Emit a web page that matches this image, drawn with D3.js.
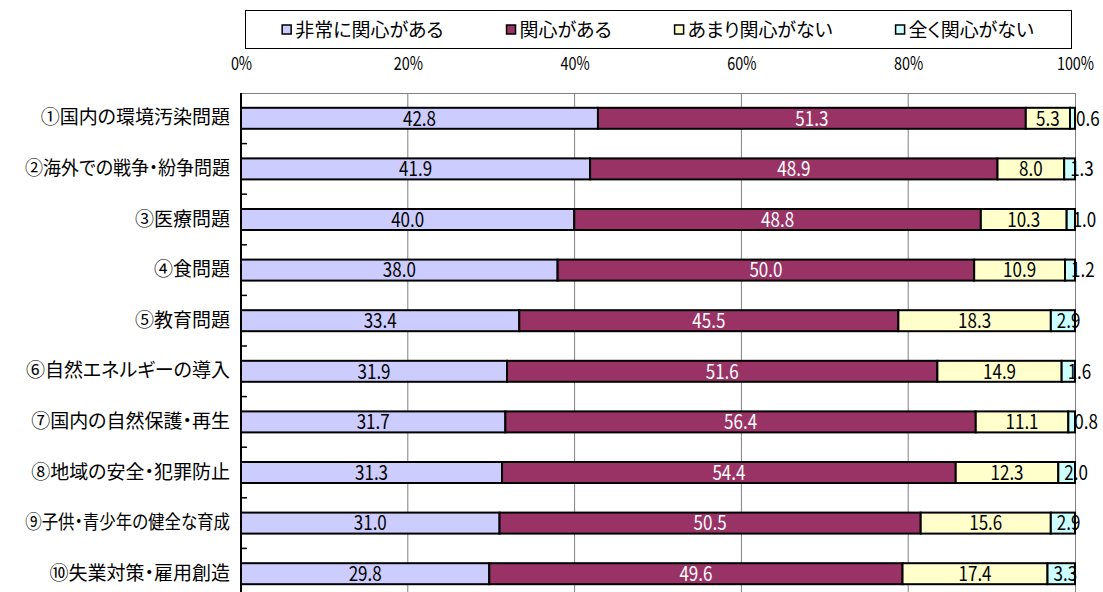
<!DOCTYPE html>
<html><head><meta charset="utf-8">
<script src="https://cdn.jsdelivr.net/npm/d3@7"></script>
<style>
html,body{margin:0;padding:0;background:#fff;}
svg{display:block;}
text{font-family:"Noto Sans CJK JP","Noto Sans",sans-serif;font-feature-settings:"palt" 1;}
</style></head>
<body>
<svg id="chart" width="1103" height="592"></svg>
<script>
const categories = ["①国内の環境汚染問題","②海外での戦争・紛争問題","③医療問題","④食問題","⑤教育問題","⑥自然エネルギーの導入","⑦国内の自然保護・再生","⑧地域の安全・犯罪防止","⑨子供・青少年の健全な育成","⑩失業対策・雇用創造"];
const seriesNames = ["非常に関心がある","関心がある","あまり関心がない","全く関心がない"];
const veryInterested = [42.8,41.9,40.0,38.0,33.4,31.9,31.7,31.3,31.0,29.8];
const interested     = [51.3,48.9,48.8,50.0,45.5,51.6,56.4,54.4,50.5,49.6];
const notMuch        = [5.3,8.0,10.3,10.9,18.3,14.9,11.1,12.3,15.6,17.4];
const notAtAll       = [0.6,1.3,1.0,1.2,2.9,1.6,0.8,2.0,2.9,3.3];
const tickValues = [0,0.2,0.4,0.6,0.8,1.0];
const colors = ["#CCCCFF","#993366","#FFFFCC","#CCFFFF"];
const labelColors = ["#000","#fff","#000","#000"];

(function(){
const svg = d3.select("#chart");
const pL = 241, pR = 1075, pT = 93, step = 50.6;
const pB = pT + step*categories.length;

const rows = categories.map((c,i)=>({cat:c, s0:veryInterested[i], s1:interested[i], s2:notMuch[i], s3:notAtAll[i]}));
const keys = ["s0","s1","s2","s3"];
const stack = d3.stack().keys(keys).offset(d3.stackOffsetExpand)(rows);

const x = d3.scaleLinear().domain([0,1]).range([pL,pR]);
const y = d3.scaleBand().domain(categories).range([pT,pB]).padding(0);
const barH = 21;

// gridlines
svg.append("g").selectAll("line").data(tickValues.filter(v=>v>0&&v<1)).join("line")
  .attr("x1",d=>x(d)).attr("x2",d=>x(d)).attr("y1",pT).attr("y2",pB)
  .attr("stroke","#808080").attr("stroke-width",1);
// plot border top/right
svg.append("line").attr("x1",pL).attr("x2",pR).attr("y1",pT+0.5).attr("y2",pT+0.5).attr("stroke","#808080");
svg.append("line").attr("x1",pR+0.5).attr("x2",pR+0.5).attr("y1",pT).attr("y2",pB).attr("stroke","#808080");

// top axis labels
const xAxis = d3.axisTop(x).tickValues(tickValues).tickFormat(d=>Math.round(d*100)+"%").tickSize(0).tickPadding(0);
const gx = svg.append("g").attr("transform",`translate(0,70)`).call(xAxis);
gx.select(".domain").remove();
gx.selectAll("text").attr("font-size",18).attr("fill","#000")
  .attr("font-family",'"Noto Sans CJK JP",sans-serif').attr("transform","scale(0.8,1)");

// bars
const layers = svg.append("g").selectAll("g").data(stack).join("g").attr("fill",(d,i)=>colors[i]);
layers.selectAll("rect").data(d=>d).join("rect")
  .attr("x",d=>x(d[0])).attr("width",d=>x(d[1])-x(d[0]))
  .attr("y",d=>y(d.data.cat)+(step-barH)/2).attr("height",barH)
  .attr("stroke","#000").attr("stroke-width",2);

// left axis
const pad = 11, maxW = 205;
const yAxis = d3.axisLeft(y).tickSize(0).tickPadding(pad);
const gy = svg.append("g").attr("transform",`translate(${pL},0)`).call(yAxis);
gy.select(".domain").remove();
gy.selectAll("text").attr("font-size",19).attr("fill","#000").attr("font-family",'"Noto Sans CJK JP",sans-serif')
  .each(function(){
    const w = this.getBBox().width;
    const s = Math.min(1, maxW / w);
    d3.select(this).attr("x",0).attr("transform",`translate(${-pad},0) scale(${s},1)`);
  });
svg.append("line").attr("x1",pL).attr("x2",pL).attr("y1",pT).attr("y2",592).attr("stroke","#000").attr("stroke-width",2);
svg.append("g").selectAll("line").data(categories.slice(1)).join("line")
  .attr("x1",pL).attr("x2",pL+6).attr("y1",d=>y(d)).attr("y2",d=>y(d))
  .attr("stroke","#000").attr("stroke-width",1.5);

// value labels
const vals = [veryInterested,interested,notMuch,notAtAll];
const sx = 0.85;
stack.forEach((layer,si)=>{
  svg.append("g").selectAll("text").data(layer).join("text")
    .attr("transform",d=>{
      const px = si<3 ? (x(d[0])+x(d[1]))/2 : x(d[0])+6;
      return `translate(${px},${y(d.data.cat)+step/2}) scale(${sx},1)`;
    })
    .attr("dy","0.36em")
    .attr("text-anchor", si<3 ? "middle" : "start")
    .attr("font-size",20).attr("fill",labelColors[si])
    .text((d,i)=>vals[si][i].toFixed(1));
});

// legend
const lg = svg.append("g");
lg.append("rect").attr("x",245.5).attr("y",10.5).attr("width",826).attr("height",38).attr("fill","#fff").attr("stroke","#000").attr("stroke-width",1);
const items = lg.selectAll("g.item").data(seriesNames).join("g").attr("class","item");
items.append("rect").attr("width",9).attr("height",9).attr("y",25).attr("fill",(d,i)=>colors[i]).attr("stroke","#000").attr("stroke-width",1.5);
items.append("text").attr("x",13).attr("y",30).attr("dy","0.36em").attr("font-size",19).text(d=>d);
let widths = [];
items.each(function(){ widths.push(this.getBBox().width); });
const gap = 63;
const total = d3.sum(widths) + gap*(widths.length-1);
let cx = 245 + (826-total)/2;
items.attr("transform",(d,i)=>{ const t=`translate(${cx},0)`; cx += widths[i]+gap; return t; });
})();
</script>
</body></html>
